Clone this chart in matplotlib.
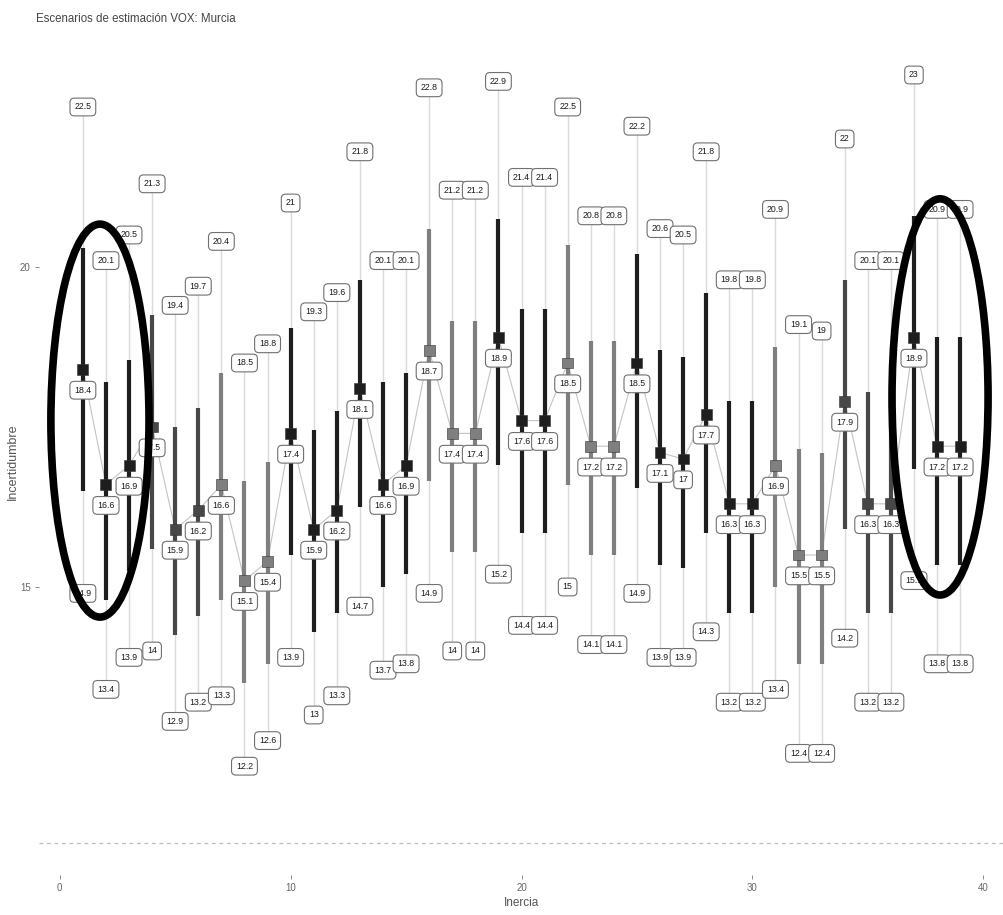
import matplotlib
matplotlib.use("Agg")
import matplotlib.pyplot as plt
from matplotlib.patches import Ellipse

# valores
inercia = [1, 2, 3, 4, 5, 6, 7, 8, 9, 10, 11, 12, 13, 14, 15, 16, 17, 18, 19, 20,
           21, 22, 23, 24, 25, 26, 27, 28, 29, 30, 31, 32, 33, 34, 35, 36, 37, 38, 39]
centro = [18.4, 16.6, 16.9, 17.5, 15.9, 16.2, 16.6, 15.1, 15.4, 17.4, 15.9, 16.2, 18.1,
          16.6, 16.9, 18.7, 17.4, 17.4, 18.9, 17.6, 17.6, 18.5, 17.2, 17.2, 18.5, 17.1,
          17.0, 17.7, 16.3, 16.3, 16.9, 15.5, 15.5, 17.9, 16.3, 16.3, 18.9, 17.2, 17.2]
maximo = [22.5, 20.1, 20.5, 21.3, 19.4, 19.7, 20.4, 18.5, 18.8, 21.0, 19.3, 19.6, 21.8,
          20.1, 20.1, 22.8, 21.2, 21.2, 22.9, 21.4, 21.4, 22.5, 20.8, 20.8, 22.2, 20.6,
          20.5, 21.8, 19.8, 19.8, 20.9, 19.1, 19.0, 22.0, 20.1, 20.1, 23.0, 20.9, 20.9]
minimo = [14.9, 13.4, 13.9, 14.0, 12.9, 13.2, 13.3, 12.2, 12.6, 13.9, 13.0, 13.3, 14.7,
          13.7, 13.8, 14.9, 14.0, 14.0, 15.2, 14.4, 14.4, 15.0, 14.1, 14.1, 14.9, 13.9,
          13.9, 14.3, 13.2, 13.2, 13.4, 12.4, 12.4, 14.2, 13.2, 13.2, 15.1, 13.8, 13.8]
interno_bajo = [16.5, 14.8, 15.25, 15.6, 14.25, 14.55, 14.8, 13.5, 13.8, 15.5, 14.3, 14.6,
                16.25, 15.0, 15.2, 16.65, 15.55, 15.55, 16.9, 15.85, 15.85, 16.6, 15.5,
                15.5, 16.55, 15.35, 15.3, 15.85, 14.6, 14.6, 15.0, 13.8, 13.8, 15.9, 14.6,
                14.6, 16.85, 15.35, 15.35]
interno_alto = [20.3, 18.2, 18.55, 19.25, 17.5, 17.8, 18.35, 16.65, 16.95, 19.05, 17.45,
                17.75, 19.8, 18.2, 18.35, 20.6, 19.15, 19.15, 20.75, 19.35, 19.35, 20.35,
                18.85, 18.85, 20.2, 18.7, 18.6, 19.6, 17.9, 17.9, 18.75, 17.15, 17.1, 19.8,
                18.05, 18.05, 20.8, 18.9, 18.9]
tono = [0, 0, 0, 1, 1, 1, 2, 2, 2, 0, 0, 0, 0, 0, 0, 2, 2, 2, 0, 0, 0, 2, 2, 2, 0, 0, 0,
        0, 0, 0, 2, 2, 2, 1, 1, 1, 0, 0, 0]
umbral = 11

# marcas a mano (elipses)
elipse_centros = [(1.74, 17.6), (38.13, 17.97)]
elipse_tamanos = [(4.25, 6.14), (4.16, 6.19)]

paleta = ["#1e1e1e", "#474747", "#7f7f7f"]

plt.rcParams["font.family"] = ["Liberation Sans", "DejaVu Sans"]

fig = plt.figure(figsize=(10.04, 9.15), dpi=100)
ax = fig.add_axes([39 / 1004, 40 / 915, 965 / 1004, 825.6 / 915])
ax.set_xlim(-0.9, 40.9)
ax.set_ylim(10.5, 23.4)

colores = [paleta[t] for t in tono]

ax.axhline(umbral, color="#bdbdbd", lw=0.9, ls=(0, (3, 3)), zorder=0)
ax.vlines(inercia, minimo, maximo, colors="#dadada", lw=1.0, zorder=1)
ax.plot(inercia, centro, color="#c4c4c4", lw=0.8, zorder=2)
ax.vlines(inercia, interno_bajo, interno_alto, colors=colores, lw=3.0, zorder=3)
ax.scatter(inercia, centro, marker="s", s=62, c=colores, edgecolors="#333333",
           linewidths=0.4, zorder=4)


def etiqueta(x, y, dy):
    ax.annotate(f"{y:g}", (x, y), xytext=(0, dy), textcoords="offset points",
                ha="center", va="center", fontsize=6.3, color="#1a1a1a", zorder=5,
                bbox=dict(boxstyle="round,pad=0.5", fc="white", ec="#707070", lw=0.8))


for i in range(len(inercia)):
    etiqueta(inercia[i], maximo[i], 0)
    etiqueta(inercia[i], minimo[i], 0)
    etiqueta(inercia[i], centro[i], -15)

for c, (w, h) in zip(elipse_centros, elipse_tamanos):
    ax.add_patch(Ellipse(c, w, h, fill=False, ec="black", lw=5.5, zorder=6))

for s in ax.spines.values():
    s.set_visible(False)
ax.set_xticks([0, 10, 20, 30, 40])
ax.set_yticks([15, 20])
ax.tick_params(length=3, width=0.6, color="#777777", labelsize=7, labelcolor="#666666",
               pad=3)
ax.set_xlabel("Inercia", fontsize=8.5, color="#555555", labelpad=3)
ax.set_ylabel("Incertidumbre", fontsize=9, color="#555555", labelpad=1)

fig.text(36 / 1004, 1 - 19 / 915, "Escenarios de estimación VOX: Murcia", fontsize=8.3,
         color="#444444", va="center", ha="left")

fig.savefig("out.png", dpi=100, facecolor="white")
